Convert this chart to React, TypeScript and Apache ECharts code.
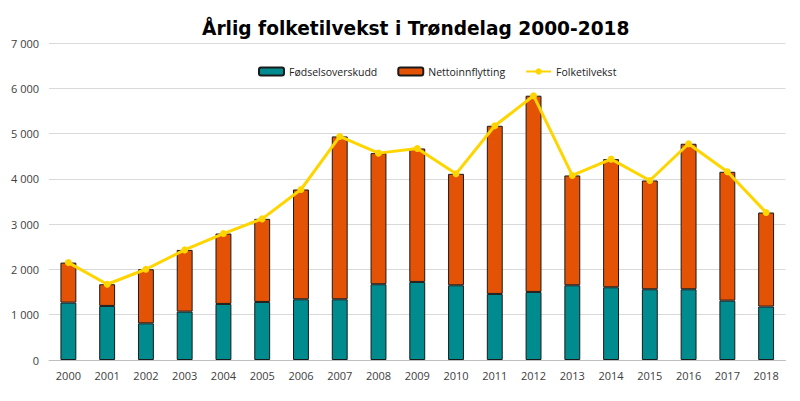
import React, { useEffect, useRef } from 'react';
import * as echarts from 'echarts';

const years = ['2000', '2001', '2002', '2003', '2004', '2005', '2006', '2007', '2008', '2009',
    '2010', '2011', '2012', '2013', '2014', '2015', '2016', '2017', '2018'];

const fodselsoverskudd = [1267, 1194, 810, 1068, 1238, 1282, 1341, 1341, 1673, 1724,
    1650, 1459, 1503, 1650, 1606, 1562, 1562, 1311, 1179];

const nettoinnflytting = [884, 479, 1194, 1363, 1554, 1835, 2424, 3596, 2895, 2947,
    2461, 3713, 4333, 2425, 2830, 2402, 3213, 2845, 2078];

const folketilvekst = [2151, 1673, 2004, 2431, 2792, 3117, 3765, 4937, 4568, 4671,
    4111, 5172, 5836, 4075, 4436, 3964, 4775, 4156, 3257];

const App: React.FC = () => {
    const chartRef = useRef<HTMLDivElement>(null);

    useEffect(() => {
        if (!chartRef.current) return;
        const myChart = echarts.init(chartRef.current, null, { renderer: 'svg' });
        const labelFont = { fontFamily: 'Open Sans', fontSize: 11, color: '#404040' };
        const option: echarts.EChartsOption = {
            animation: false,
            title: {
                text: 'Årlig folketilvekst i Trøndelag 2000-2018',
                left: 189,
                top: 6,
                textStyle: { fontFamily: 'DejaVu Sans', fontWeight: 'bold', fontSize: 18.6, color: '#000' }
            },
            legend: {
                top: 53,
                left: 245,
                itemWidth: 25,
                itemHeight: 8,
                itemGap: 20,
                textStyle: { ...labelFont, fontSize: 10.5, color: '#222' },
                data: [
                    { name: 'Fødselsoverskudd' },
                    { name: 'Nettoinnflytting' },
                    { name: 'Folketilvekst' }
                ]
            },
            grid: { left: 35.5, right: 6.5, top: 35, bottom: 33 },
            xAxis: {
                type: 'category',
                data: years,
                axisLine: { lineStyle: { color: '#bfbfbf' } },
                axisTick: { show: false },
                axisLabel: { ...labelFont, margin: 10 }
            },
            yAxis: {
                type: 'value',
                min: 0,
                max: 7000,
                interval: 1000,
                axisLine: { show: false },
                axisTick: { show: false },
                splitLine: { lineStyle: { color: '#d9d9d9' } },
                axisLabel: {
                    ...labelFont,
                    margin: 10,
                    formatter: (v: number) => String(v).replace(/\B(?=(\d{3})+(?!\d))/g, ' ')
                }
            },
            series: [
                {
                    name: 'Fødselsoverskudd',
                    type: 'bar',
                    stack: 'total',
                    barWidth: '41%',
                    data: fodselsoverskudd,
                    itemStyle: { color: '#008B8E', borderColor: '#1a1a1a', borderWidth: 1 }
                },
                {
                    name: 'Nettoinnflytting',
                    type: 'bar',
                    stack: 'total',
                    barWidth: '41%',
                    data: nettoinnflytting,
                    itemStyle: { color: '#E35205', borderColor: '#1a1a1a', borderWidth: 1 }
                },
                {
                    name: 'Folketilvekst',
                    type: 'line',
                    data: folketilvekst,
                    symbol: 'circle',
                    symbolSize: 7,
                    lineStyle: { color: '#FFD500', width: 3 },
                    itemStyle: { color: '#FFD500' },
                    z: 5
                }
            ]
        };
        myChart.setOption(option);

        return () => {
            myChart.dispose();
        };
    }, []);

    return <div ref={chartRef} style={{ width: '784px', height: '385px' }} />;
};

export default App;
